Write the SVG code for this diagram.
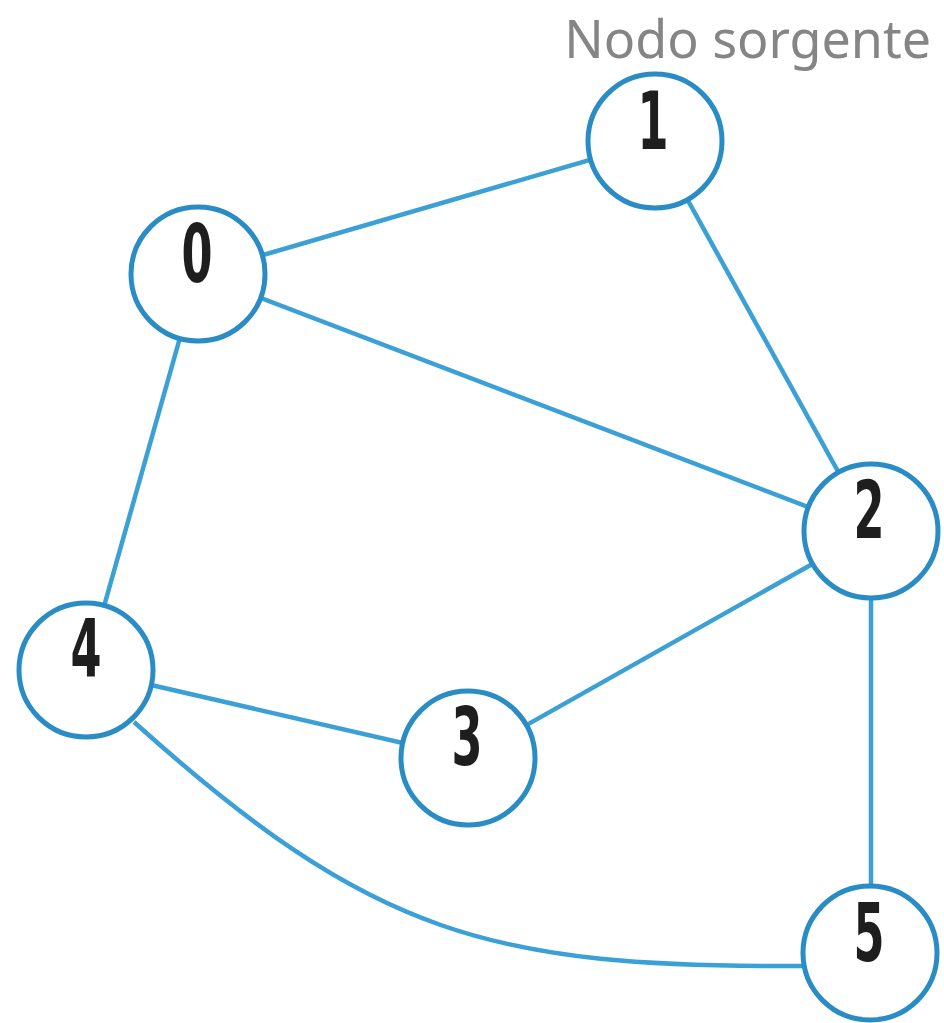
<svg xmlns="http://www.w3.org/2000/svg" width="944" height="1023" viewBox="0 0 944 1023">
  <style>
    .edge { fill: none; stroke: #3aa0d6; stroke-width: 4.5; }
    .node circle { fill: #ffffff; stroke: #2a8cc4; stroke-width: 5; }
    .node text { font-family: "DejaVu Sans Condensed", "Liberation Sans", sans-serif; font-weight: bold; font-size: 80px; fill: #1e1e1e; text-anchor: middle; }
    .title { font-family: "Noto Sans", "Open Sans", sans-serif; font-size: 52px; fill: #858585; text-anchor: end; }
  </style>
  <rect width="944" height="1023" fill="#ffffff"/>

  <text class="title" x="931" y="58">Nodo sorgente</text>

  <g id="connectors">
    <line class="edge" x1="198" y1="274" x2="655" y2="141"/>
    <line class="edge" x1="198" y1="274" x2="871" y2="531"/>
    <line class="edge" x1="655" y1="141" x2="871" y2="531"/>
    <line class="edge" x1="198" y1="274" x2="86" y2="670"/>
    <line class="edge" x1="86" y1="670" x2="468" y2="758"/>
    <line class="edge" x1="468" y1="758" x2="871" y2="531"/>
    <line class="edge" x1="871" y1="531" x2="871" y2="953"/>
    <path class="edge" d="M134,722 C372,936 490,968 805,966"/>
  </g>

  <g id="node-1" class="node">
    <circle cx="655" cy="141" r="67"/>
    <text transform="translate(653,149) scale(0.62,1)">1</text>
  </g>
  <g id="node-0" class="node">
    <circle cx="198" cy="274" r="67"/>
    <text transform="translate(197,282) scale(0.62,1)">0</text>
  </g>
  <g id="node-2" class="node">
    <circle cx="871" cy="531" r="67"/>
    <text transform="translate(869,538) scale(0.62,1)">2</text>
  </g>
  <g id="node-4" class="node">
    <circle cx="86" cy="670" r="67"/>
    <text transform="translate(86,677) scale(0.62,1)">4</text>
  </g>
  <g id="node-3" class="node">
    <circle cx="468" cy="758" r="67"/>
    <text transform="translate(467,765) scale(0.62,1)">3</text>
  </g>
  <g id="node-5" class="node">
    <circle cx="870" cy="953" r="67"/>
    <text transform="translate(869,961) scale(0.62,1)">5</text>
  </g>
</svg>
